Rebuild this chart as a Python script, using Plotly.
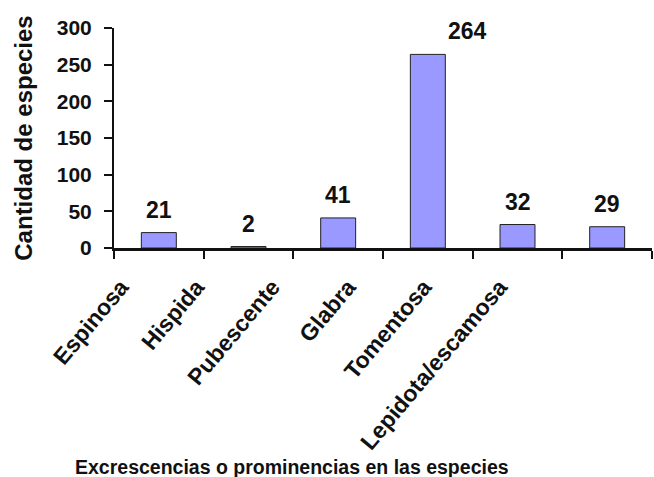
import plotly.graph_objects as go

# Data
categories = ["Espinosa", "Hispida", "Pubescente", "Glabra", "Tomentosa", "Lepidota/escamosa"]
counts = [21, 2, 41, 264, 32, 29]
y_ticks = [0, 50, 100, 150, 200, 250, 300]

FONT = "Liberation Sans, Arial, sans-serif"

fig = go.Figure()

fig.add_trace(go.Bar(
    x=categories,
    y=counts,
    marker=dict(color="#9999FF", line=dict(color="#222222", width=1)),
    width=0.39,
    showlegend=False,
    hoverinfo="skip",
))

# Value labels above each bar (the tall one is nudged right)
for cat, val in zip(categories, counts):
    fig.add_annotation(
        x=cat, y=val, xref="x", yref="y",
        text=f"<b>{val}</b>", showarrow=False,
        xanchor="center", yanchor="bottom",
        yshift=8, xshift=40 if val == max(counts) else 0,
        font=dict(family=FONT, size=23, color="#111111"),
    )

# Category labels drawn on a secondary axis with tighter spacing
fig.add_trace(go.Scatter(
    x=categories, y=[None] * len(categories), xaxis="x2", yaxis="y",
    showlegend=False, hoverinfo="skip",
))

fig.add_annotation(
    x=0.331, y=-0.995, xref="paper", yref="paper",
    text="<b>Excrescencias o prominencias en las especies</b>",
    showarrow=False, xanchor="center", yanchor="middle",
    font=dict(family=FONT, size=19.5, color="#111111"),
)

fig.update_layout(
    width=654, height=477,
    margin=dict(l=114, r=2, t=28, b=229),
    paper_bgcolor="white", plot_bgcolor="white",
    font=dict(family=FONT, color="#111111"),
    xaxis=dict(
        type="category", categoryorder="array", categoryarray=categories,
        range=[-0.5, 5.5],
        showline=True, linecolor="#111111", linewidth=3,
        ticks="outside", tickson="boundaries", ticklen=8, tickwidth=2, tickcolor="#111111",
        showticklabels=False, showgrid=False, zeroline=False,
    ),
    xaxis2=dict(
        type="category", categoryorder="array", categoryarray=categories,
        overlaying="x", anchor="y", side="bottom",
        range=[-0.093, 7.014],
        showline=False, ticks="", showgrid=False, zeroline=False,
        tickangle=-50, ticklabelstandoff=20,
        tickfont=dict(family=FONT, size=23, color="#111111", weight="bold"),
    ),
    yaxis=dict(
        range=[0, 300], tickvals=y_ticks,
        showline=True, linecolor="#111111", linewidth=2,
        ticks="outside", ticklen=8, tickwidth=2, tickcolor="#111111",
        ticklabelstandoff=8,
        showgrid=False, zeroline=False,
        tickfont=dict(family=FONT, size=21, color="#111111", weight="bold"),
        title=dict(text="<b>Cantidad de especies</b>", standoff=17,
                   font=dict(family=FONT, size=24, color="#111111")),
    ),
)

fig.write_html("out.html")
